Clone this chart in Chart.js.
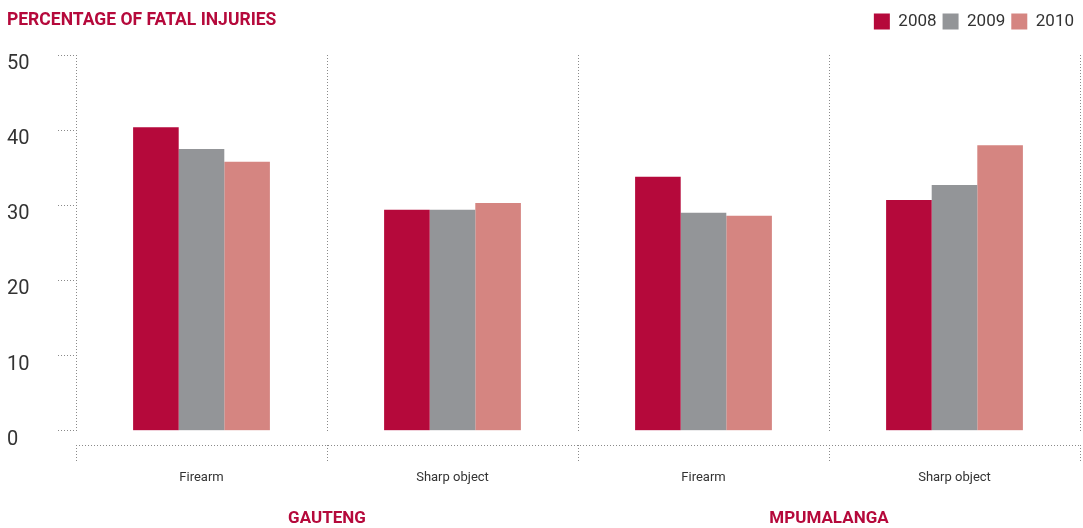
<!DOCTYPE html>
<html>
<head>
<meta charset="utf-8">
<script src="https://cdn.jsdelivr.net/npm/chart.js@4.4.1/dist/chart.umd.min.js"></script>
<style>
  html, body { margin: 0; padding: 0; background: #fff; }
  #wrap { position: relative; width: 1083px; height: 528px; }
  #title {
    position: absolute; left: 7px; top: 9px;
    font-family: Roboto, sans-serif;
    font-weight: bold; font-size: 17.5px; color: #b5093b;
  }
</style>
</head>
<body>
<div id="wrap">
  <div id="title">PERCENTAGE OF FATAL INJURIES</div>
  <canvas id="Graph" width="1083" height="528"></canvas>
</div>
<script>
const categories = ["Firearm", "Sharp object", "Firearm", "Sharp object"];
const regions = ["GAUTENG", "MPUMALANGA"];
const years = ["2008", "2009", "2010"];

const values2008 = [40.4, 29.4, 33.8, 30.7];
const values2009 = [37.5, 29.4, 29.0, 32.7];
const values2010 = [35.8, 30.3, 28.6, 38.0];

const crimson = "#b5093b";
const grey = "#939598";
const pink = "#d58581";
const dotColor = "#8a8a8a";
const fontFamily = "Roboto, sans-serif";

// dotted bracket under the plot (line + tick at each category boundary)
const bracketPlugin = {
    id: "bracket",
    afterDraw(chart) {
        const x = chart.scales.x;
        const ctx = chart.ctx;
        const y0 = Math.round(chart.chartArea.bottom) + 14;
        const step = (x.right - x.left) / categories.length;
        ctx.save();
        ctx.strokeStyle = dotColor;
        ctx.lineWidth = 1;
        ctx.setLineDash([1, 2]);
        ctx.beginPath();
        ctx.moveTo(x.left, y0 + 0.5);
        ctx.lineTo(x.right, y0 + 0.5);
        for (let i = 0; i <= categories.length; i++) {
            const px = Math.round(x.left + i * step) + 0.5;
            ctx.moveTo(px, y0);
            ctx.lineTo(px, y0 + 18);
        }
        ctx.stroke();
        ctx.restore();
    }
};

// make the legend row taller so the plot starts lower, items stay at the top
const legendSpacer = {
    id: "legendSpacer",
    beforeInit(chart) {
        const fit = chart.legend.fit;
        chart.legend.fit = function () {
            fit.call(this);
            this.height = Math.max(this.height, 48);
        };
    }
};

new Chart("Graph", {
    type: "bar",
    data: {
        labels: categories,
        datasets: [
            { label: years[0], data: values2008, backgroundColor: crimson },
            { label: years[1], data: values2009, backgroundColor: grey },
            { label: years[2], data: values2010, backgroundColor: pink }
        ]
    },
    options: {
        responsive: false,
        animation: false,
        barPercentage: 1,
        categoryPercentage: 0.545,
        layout: { padding: { left: 7, right: 3, top: 7, bottom: 0 } },
        plugins: {
            title: { display: false },
            tooltip: { enabled: false },
            legend: {
                display: true,
                position: "top",
                align: "end",
                labels: {
                    boxWidth: 16,
                    boxHeight: 16,
                    padding: 6,
                    color: "#333",
                    font: { family: fontFamily, size: 17 }
                }
            }
        },
        scales: {
            x: {
                offset: true,
                grid: {
                    display: true,
                    offset: true,
                    drawOnChartArea: true,
                    drawTicks: true,
                    tickLength: 35,
                    tickColor: "transparent",
                    color: dotColor
                },
                border: { display: false, dash: [1, 2] },
                ticks: {
                    color: "#333",
                    padding: 4,
                    font: { family: fontFamily, size: 13 }
                }
            },
            x2: {
                type: "category",
                labels: regions,
                position: "bottom",
                offset: true,
                grid: {
                    display: true,
                    drawOnChartArea: false,
                    drawTicks: true,
                    tickLength: 20,
                    color: "transparent",
                    tickColor: "transparent"
                },
                border: { display: false },
                ticks: {
                    color: crimson,
                    padding: 0,
                    font: { family: fontFamily, size: 17, weight: "bold", lineHeight: 1.1 }
                }
            },
            y: {
                min: 0,
                max: 50,
                afterFit(scale) {
                    scale.width = 69;
                },
                ticks: {
                    stepSize: 10,
                    color: "#333",
                    padding: 8,
                    crossAlign: "far",
                    labelOffset: 9,
                    font: { family: fontFamily, size: 20 }
                },
                grid: {
                    display: true,
                    drawOnChartArea: false,
                    drawTicks: true,
                    tickLength: 18,
                    tickColor: dotColor,
                    tickBorderDash: [1, 2]
                },
                border: { display: false }
            }
        }
    },
    plugins: [bracketPlugin, legendSpacer]
});
</script>
</body>
</html>
